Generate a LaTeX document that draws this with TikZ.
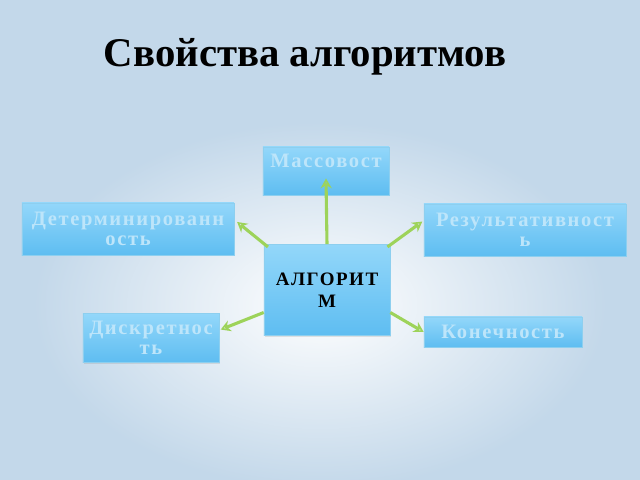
\documentclass[tikz,border=0pt]{standalone}
\usepackage{fontspec}
\setmainfont{Liberation Serif}
\newfontfamily\boxfont{Liberation Serif}[LetterSpace=8]
\usetikzlibrary{arrows.meta,fadings,shadows}
\definecolor{bgblue}{HTML}{C3D8EA}
\definecolor{boxtop}{HTML}{93D7FA}
\definecolor{boxbot}{HTML}{5EBDF1}
\definecolor{boxline}{HTML}{8DCFEF}
\definecolor{boxtext}{HTML}{BDE5FA}
\definecolor{arrgreen}{HTML}{9DD35A}
\tikzfading[name=glow, inner color=transparent!0, outer color=transparent!100]
\tikzset{
  box/.style={draw=boxline, top color=boxtop, bottom color=boxbot, align=center, inner sep=0pt,
    font=\boxfont\bfseries\fontsize{14.6}{14.6}\selectfont, text=boxtext,
    drop shadow={opacity=0.2, shadow xshift=0.5pt, shadow yshift=-1pt}},
  arr/.style={arrgreen, line width=2.2pt, -{Stealth[open, length=7pt, width=8pt]}}
}

\begin{document}
\begin{tikzpicture}[x=0.025cm, y=-0.025cm]
    \useasboundingbox (0,0) rectangle (640,480);

    % background
    \fill [left color=bgblue, middle color=white!92!bgblue, right color=bgblue] (0,0) rectangle (640,480);
    \fill [white, path fading=glow, fit fading=true] (320,305) ellipse [x radius=7.2cm, y radius=4.6cm];

    \node (title) at (305,57) {\fontsize{29}{34}\selectfont\bfseries Свойства алгоритмов};

    \node [box, minimum width=3.15cm, minimum height=1.2cm, text depth=15pt] (mass) at (326,171) {Массовост};
    \node [box, minimum width=5.3cm, minimum height=1.3cm] (det) at (128,229) {Детерминированн\\ость};
    \node [box, minimum width=5.05cm, minimum height=1.3cm] (res) at (525,230) {Результативност\\ь};
    \node [box, minimum width=3.4cm, minimum height=1.22cm] (disc) at (151,338) {Дискретнос\\ть};
    \node [box, minimum width=3.95cm, minimum height=0.75cm] (kon) at (503,332) {Конечность};
    \node [box, minimum width=3.15cm, minimum height=2.28cm, text=black,
           font=\boxfont\bfseries\fontsize{13.5}{15.5}\selectfont] (alg) at (327,290) {АЛГОРИТ\\М};

    \draw [arr] (alg.north) -- ([yshift=0.42cm]mass.south);
    \draw [arr] ([xshift=3pt,yshift=-2pt]alg.north west) -- ([xshift=2pt,yshift=5pt]det.east);
    \draw [arr] ([xshift=-2pt,yshift=-2pt]alg.north east) -- ([xshift=-1pt,yshift=6pt]res.west);
    \draw [arr] ([yshift=-16pt]alg.west) -- ([xshift=1pt,yshift=6pt]disc.east);
    \draw [arr] ([yshift=-16pt]alg.east) -- (kon.west);

\end{tikzpicture}
\end{document}
